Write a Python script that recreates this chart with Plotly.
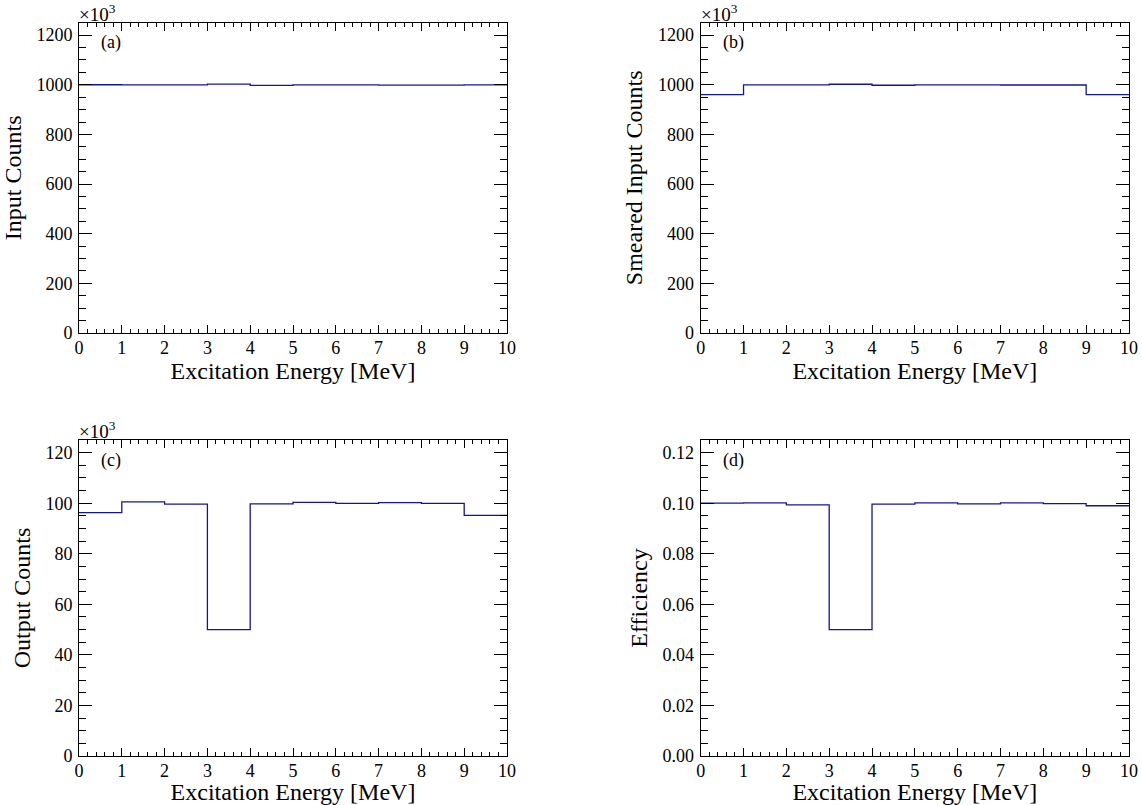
import plotly.graph_objects as go

# ---- data ----
bin_edges = [0, 1, 2, 3, 4, 5, 6, 7, 8, 9, 10]
input_counts_k = [1000.0, 999.5, 999.3, 1002.5, 997.5, 999.3, 999.2, 998.6, 998.8, 999.4]
smeared_counts_k = [960.0, 999.3, 999.5, 1002.0, 998.0, 999.5, 999.2, 999.0, 999.0, 960.0]
output_counts_k = [96.3, 100.5, 99.6, 50.0, 99.7, 100.3, 99.9, 100.2, 99.9, 95.2]
efficiency = [0.1000, 0.1001, 0.0993, 0.0500, 0.0996, 0.1001, 0.0997, 0.1001, 0.0998, 0.0990]

panels = [
    dict(vals=input_counts_k, title="Input Counts", label="(a)", rng=[0, 1250], dtick=200, minor=50, fmt="d", exp=True),
    dict(vals=smeared_counts_k, title="Smeared Input Counts", label="(b)", rng=[0, 1250], dtick=200, minor=50, fmt="d", exp=True),
    dict(vals=output_counts_k, title="Output Counts", label="(c)", rng=[0, 125], dtick=20, minor=5, fmt="d", exp=True),
    dict(vals=efficiency, title="Efficiency", label="(d)", rng=[0, 0.125], dtick=0.02, minor=0.005, fmt=".2f", exp=False),
]

W, H = 1142, 805
xdoms = [[79 / W, 507 / W], [700.7 / W, 1129 / W]]
ydoms = [[1 - 333 / H, 1 - 22.7 / H], [1 - 756 / H, 1 - 440 / H]]

FONT = "Liberation Serif"
LINE_COLOR = "#14149a"

fig = go.Figure()

for i, p in enumerate(panels):
    r, c = divmod(i, 2)
    ax = "" if i == 0 else str(i + 1)
    xa, ya = "x" + ax, "y" + ax
    ys = p["vals"] + [p["vals"][-1]]
    fig.add_trace(go.Scatter(
        x=bin_edges, y=ys, mode="lines", line=dict(shape="hv", color=LINE_COLOR, width=1.3),
        xaxis=xa, yaxis=ya, showlegend=False, hoverinfo="skip"))
    fig.layout["xaxis" + ax] = dict(
        domain=xdoms[c], anchor=ya, range=[0, 10], dtick=1, tick0=0, automargin=False,
        ticks="inside", ticklen=8, tickwidth=1, tickcolor="black",
        minor=dict(ticks="inside", dtick=0.2, ticklen=4, tickcolor="black", tickwidth=1, showgrid=False),
        showline=True, linecolor="black", linewidth=1, mirror="allticks",
        showgrid=False, zeroline=False, ticklabelstandoff=-2,
        tickfont=dict(family=FONT, size=18, color="black"),
        title=dict(text="Excitation Energy [MeV]", font=dict(family=FONT, size=24, color="black"), standoff=0),
    )
    fig.layout["yaxis" + ax] = dict(
        domain=ydoms[r], anchor=xa, range=p["rng"], dtick=p["dtick"], tick0=0, automargin=False,
        tickformat=p["fmt"],
        ticks="inside", ticklen=13, tickwidth=1, tickcolor="black",
        minor=dict(ticks="inside", dtick=p["minor"], ticklen=7, tickcolor="black", tickwidth=1, showgrid=False),
        showline=True, linecolor="black", linewidth=1, mirror="allticks",
        showgrid=False, zeroline=False, ticklabelstandoff=2,
        tickfont=dict(family=FONT, size=18, color="black"),
        title=dict(text=p["title"], font=dict(family=FONT, size=24, color="black"), standoff=8),
    )
    fig.add_annotation(text=p["label"], xref=xa + " domain", yref=ya + " domain",
                       x=0.047, y=0.935, xanchor="left", yanchor="middle", showarrow=False,
                       font=dict(family=FONT, size=18, color="black"))
    if p["exp"]:
        fig.add_annotation(text="×10<sup>3</sup>", xref=xa + " domain", yref=ya + " domain",
                           x=0.0, y=1.0, xanchor="left", yanchor="bottom", showarrow=False,
                           yshift=-4, xshift=-2, font=dict(family=FONT, size=19, color="black"))

fig.update_layout(
    width=W, height=H, margin=dict(l=0, r=0, t=0, b=0),
    paper_bgcolor="white", plot_bgcolor="white",
    font=dict(family=FONT, color="black"),
)

fig.write_html("out.html", config={"displayModeBar": False},
               post_script="document.body.style.margin='0px';document.body.style.overflow='hidden';")
